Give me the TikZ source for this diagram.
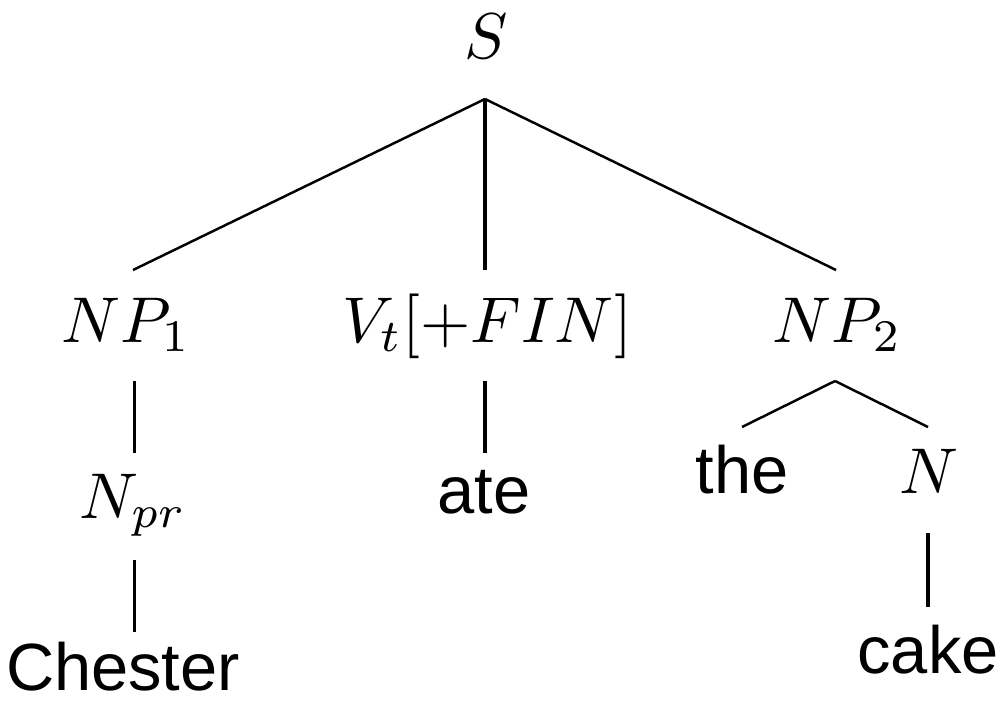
\documentclass[tikz,border=0pt]{standalone}
\usepackage{graphicx}
\usepackage{fontspec}
\setsansfont{Liberation Sans}
\newcommand{\bigmath}[1]{\scalebox{1.84}{$#1$}}
\begin{document}
\begin{tikzpicture}[x=0.01cm,y=-0.01cm,
  lbl/.style={anchor=base,inner sep=0pt},
  word/.style={anchor=base,inner sep=0pt,font=\fontsize{19}{23}\selectfont\sffamily},
  edge/.style={line width=0.7pt},
  vedge/.style={line width=1pt}]
\useasboundingbox (0,0) rectangle (1001,700);
% labels
\node[lbl] (S) at (486,58) {\bigmath{S}};
\node[lbl] (NP1) at (126,342) {\bigmath{NP_1}};
\node[lbl] (Vt) at (487,342) {\bigmath{V_t[+FIN]}};
\node[lbl] (NP2) at (837,342) {\bigmath{NP_2}};
\node[lbl] (Npr) at (133,518) {\bigmath{N_{pr}}};
\node[word] (chester) at (123,690) {Chester};
\node[word] (ate) at (484,513) {ate};
\node[word] (the) at (742,493) {the};
\node[lbl] (N) at (929,493) {\bigmath{N}};
\node[word] (cake) at (928,673) {cake};
% connector end points
\coordinate (S-b) at (485,99);
\coordinate (NP1-t) at (133,270);
\coordinate (Vt-t) at (485,270);
\coordinate (NP2-t) at (836,270);
\coordinate (NP1-b) at (134.5,381);
\coordinate (Npr-t) at (134.5,453);
\coordinate (Npr-b) at (134.5,560);
\coordinate (chester-t) at (134.5,632);
\coordinate (Vt-b) at (485,381);
\coordinate (ate-t) at (485,453);
\coordinate (NP2-b) at (835,381);
\coordinate (the-t) at (742,427);
\coordinate (N-t) at (928,427);
\coordinate (N-b) at (928,533);
\coordinate (cake-t) at (928,607);
% connectors
\draw[edge] (S-b) -- (NP1-t);
\draw[vedge] (S-b) -- (Vt-t);
\draw[edge] (S-b) -- (NP2-t);
\draw[vedge] (NP1-b) -- (Npr-t);
\draw[vedge] (Npr-b) -- (chester-t);
\draw[vedge] (Vt-b) -- (ate-t);
\draw[edge] (NP2-b) -- (the-t);
\draw[edge] (NP2-b) -- (N-t);
\draw[vedge] (N-b) -- (cake-t);
\end{tikzpicture}
\end{document}
